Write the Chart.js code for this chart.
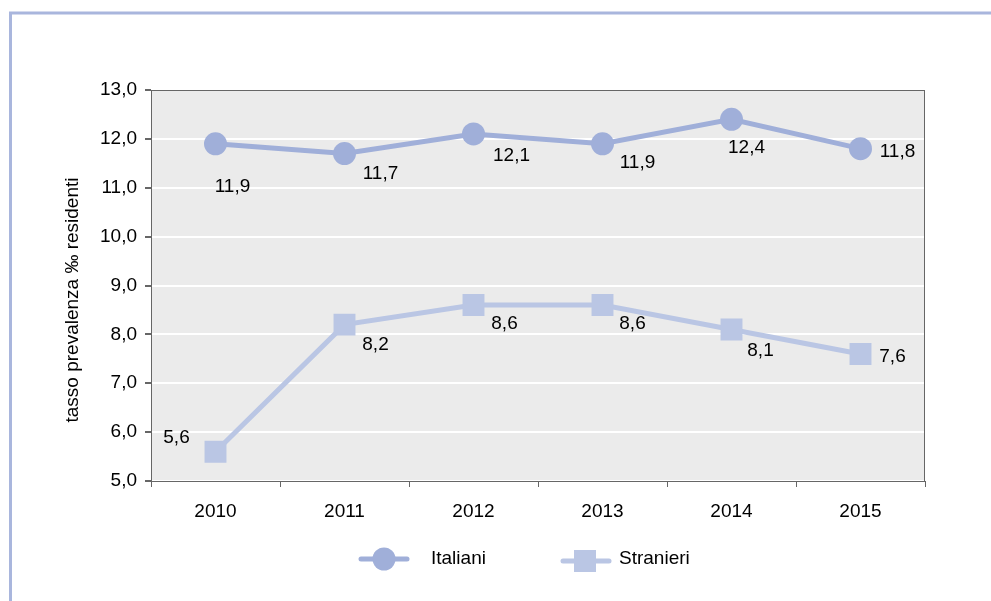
<!DOCTYPE html>
<html>
<head>
<meta charset="utf-8">
<title>Tasso di prevalenza</title>
<script src="https://cdn.jsdelivr.net/npm/chart.js@4/dist/chart.umd.min.js"></script>
<style>
  body { margin: 0; background: #fff; }
  canvas { display: block; }
</style>
</head>
<body>
<canvas id="chartPrevalenza" width="991" height="601"></canvas>
<script>
var anni = ['2010', '2011', '2012', '2013', '2014', '2015'];
var italiani = [11.9, 11.7, 12.1, 11.9, 12.4, 11.8];
var stranieri = [5.6, 8.2, 8.6, 8.6, 8.1, 7.6];
var tickY = [5, 6, 7, 8, 9, 10, 11, 12, 13];
var titoloY = 'tasso prevalenza \u2030 residenti';

var FONT = '"Liberation Sans", Arial, sans-serif';
var SIZE = 19;

// spostamento delle etichette rispetto al punto (centro del testo)
var offsetEtichette = [
  [[17, 43], [36, 20], [38, 22], [35, 19], [15, 28], [37, 3]],
  [[-39, -14], [31, 20], [31, 19], [30, 19], [29, 21], [32, 3]]
];

function virgola(v) {
  return v.toFixed(1).replace('.', ',');
}

// cornice, sfondo dell'area e bordo
var sfondo = {
  id: 'sfondo',
  beforeDraw: function (chart) {
    var ctx = chart.ctx, a = chart.chartArea;
    ctx.save();
    ctx.strokeStyle = '#a9b6dd';
    ctx.lineWidth = 3;
    ctx.strokeRect(10.5, 13, 1100, 700);
    ctx.fillStyle = '#ebebeb';
    ctx.fillRect(a.left, a.top, a.right - a.left, a.bottom - a.top);
    ctx.restore();
  },
  beforeDatasetsDraw: function (chart) {
    var ctx = chart.ctx, a = chart.chartArea;
    ctx.save();
    ctx.strokeStyle = '#666';
    ctx.lineWidth = 1;
    ctx.strokeRect(a.left + 0.5, a.top + 0.5, a.right - a.left - 1, a.bottom - a.top);
    ctx.restore();
  }
};

// etichette dei valori, titolo asse y e legenda
var testi = {
  id: 'testi',
  afterDraw: function (chart) {
    var ctx = chart.ctx;
    ctx.save();
    ctx.font = SIZE + 'px ' + FONT;
    ctx.fillStyle = '#000';
    ctx.textAlign = 'center';
    ctx.textBaseline = 'middle';
    chart.data.datasets.forEach(function (ds, i) {
      chart.getDatasetMeta(i).data.forEach(function (pt, j) {
        var o = offsetEtichette[i][j];
        ctx.fillText(virgola(ds.data[j]), pt.x + o[0], pt.y + o[1]);
      });
    });

    ctx.save();
    ctx.translate(73, 300);
    ctx.rotate(-Math.PI / 2);
    ctx.fillText(titoloY, 0, 0);
    ctx.restore();

    var voci = [{ x: 359, y: 559 }, { x: 561, y: 561 }];
    chart.data.datasets.forEach(function (ds, i) {
      var v = voci[i];
      ctx.strokeStyle = ds.borderColor;
      ctx.fillStyle = ds.borderColor;
      ctx.lineWidth = 5;
      ctx.lineCap = 'round';
      ctx.beginPath();
      ctx.moveTo(v.x + 2, v.y);
      ctx.lineTo(v.x + 48, v.y);
      ctx.stroke();
      if (ds.pointStyle === 'circle') {
        ctx.beginPath();
        ctx.arc(v.x + 25, v.y, 11.5, 0, Math.PI * 2);
        ctx.fill();
      } else {
        ctx.fillRect(v.x + 13, v.y - 11, 22, 22);
      }
      ctx.fillStyle = '#000';
      ctx.textAlign = 'left';
      ctx.fillText(ds.label, v.x + (i === 0 ? 72 : 58), 559);
    });
    ctx.restore();
  }
};

var ctx = document.getElementById('chartPrevalenza').getContext('2d');
var chart = new Chart(ctx, {
  type: 'line',
  data: {
    labels: anni,
    datasets: [
      {
        label: 'Italiani',
        data: italiani,
        borderColor: '#a0afd9',
        backgroundColor: '#a0afd9',
        borderWidth: 5,
        pointStyle: 'circle',
        pointRadius: 11.5,
        pointBorderWidth: 0,
        tension: 0
      },
      {
        label: 'Stranieri',
        data: stranieri,
        borderColor: '#bac6e4',
        backgroundColor: '#bac6e4',
        borderWidth: 5,
        pointStyle: 'rect',
        pointRadius: 15.5,
        pointBorderWidth: 0,
        tension: 0
      }
    ]
  },
  options: {
    responsive: false,
    animation: false,
    layout: { padding: { top: 90, right: 66, left: 0, bottom: 0 } },
    plugins: {
      legend: { display: false },
      tooltip: { enabled: false }
    },
    scales: {
      x: {
        offset: true,
        afterFit: function (s) { s.height = 120; },
        grid: {
          offset: true,
          drawOnChartArea: false,
          tickLength: 6,
          tickColor: '#666'
        },
        border: { color: '#666', width: 1 },
        ticks: {
          padding: 13,
          color: '#000',
          font: { family: FONT, size: SIZE }
        }
      },
      y: {
        min: 5,
        max: 13,
        afterFit: function (s) { s.width = 151; },
        afterBuildTicks: function (s) {
          s.ticks = tickY.map(function (v) { return { value: v }; });
        },
        grid: {
          color: '#ffffff',
          lineWidth: 2,
          tickLength: 6,
          tickColor: '#666'
        },
        border: { color: '#666', width: 1 },
        ticks: {
          padding: 8,
          color: '#000',
          font: { family: FONT, size: SIZE }
        ,
          callback: function (v) { return virgola(v); }
        }
      }
    }
  },
  plugins: [sfondo, testi]
});
</script>
</body>
</html>
